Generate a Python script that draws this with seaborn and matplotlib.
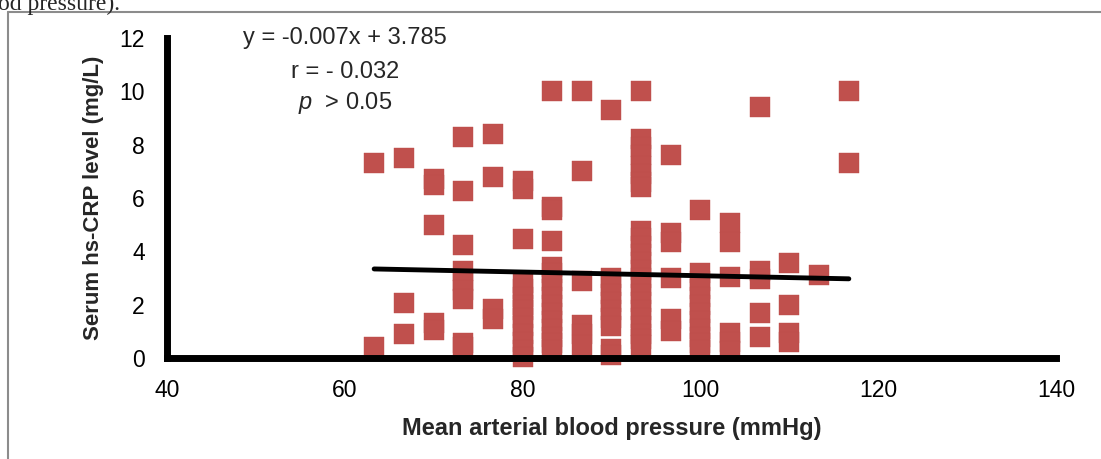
"""
Scatter of serum hs-CRP level against mean arterial blood pressure,
with the fitted linear trend line.
"""

import pandas as pd
import matplotlib.pyplot as plt
import seaborn as sns
from matplotlib.lines import Line2D

sns.set_theme(style='white')
plt.rcParams['font.family'] = ['Liberation Sans', 'DejaVu Sans']
plt.rcParams['mathtext.fontset'] = 'custom'
plt.rcParams['mathtext.it'] = 'Liberation Sans:italic'
plt.rcParams['mathtext.rm'] = 'Liberation Sans'

# MAP columns (mmHg) and the hs-CRP values stacked in each column (mg/L)
map_values = [63.3, 66.7, 70.0, 73.3, 76.7, 80.0, 83.3, 86.7, 90.0,
              93.3, 96.7, 100.0, 103.3, 106.7, 110.0, 113.3, 116.7]
crp_values = [
    [7.3, 0.4],
    [7.5, 2.05, 0.9],
    [6.7, 6.5, 5.0, 1.3, 1.05],
    [8.3, 6.25, 4.25, 3.25, 2.9, 2.55, 2.2, 0.55, 0.4],
    [8.4, 6.8, 1.85, 1.45],
    [6.65, 6.35, 4.45, 2.8, 2.6, 2.3, 2.0, 1.8, 1.5, 1.2, 0.9, 0.6, 0.3, 0.05],
    [10.0, 5.65, 5.55, 4.4, 3.4, 3.2, 2.9, 2.6, 2.3, 2.0, 1.7, 1.4, 1.1,
     0.8, 0.55, 0.3],
    [10.0, 7.0, 2.9, 1.25, 0.9, 0.5],
    [9.3, 3.0, 2.7, 2.4, 2.1, 1.8, 1.5, 1.2, 0.35, 0.1],
    [10.0, 8.2, 7.9, 7.6, 7.2, 6.9, 6.6, 6.4, 4.75, 4.5, 4.2, 3.9, 3.6,
     3.3, 3.0, 2.7, 2.4, 2.1, 1.8, 1.5, 1.2, 0.9, 0.7, 0.5],
    [7.6, 4.7, 4.35, 3.0, 1.45, 1.0],
    [5.55, 3.2, 2.9, 2.6, 2.3, 2.0, 1.7, 1.4, 1.1, 0.8, 0.55, 0.3],
    [5.05, 4.35, 3.05, 0.95, 0.6, 0.25],
    [9.4, 3.25, 2.95, 1.7, 0.8],
    [3.55, 2.0, 0.95, 0.6],
    [3.1],
    [10.0, 7.3],
]

# trend line end points (y = -0.007x + 3.785)
trend_x = [63.3, 116.7]
trend_y = [3.34, 2.97]

x_ticks = [40, 60, 80, 100, 120, 140]
y_ticks = [0, 2, 4, 6, 8, 10, 12]

rows = [(x, y) for x, ys in zip(map_values, crp_values) for y in ys]
df = pd.DataFrame(rows, columns=['map', 'crp'])

fig = plt.figure(figsize=(11.01, 4.59), dpi=100)
ax = fig.add_axes([0.1517, 0.2200, 0.8074, 0.6972])

sns.scatterplot(data=df, x='map', y='crp', marker='s', s=225,
                color='#C0504D', edgecolor='#BC4D4A', linewidth=0.3,
                clip_on=False, zorder=1, ax=ax)
sns.lineplot(x=trend_x, y=trend_y, color='black', linewidth=3.5,
             solid_capstyle='round', zorder=3, ax=ax)

ax.set_xlim(40, 140)
ax.set_ylim(0, 12)
ax.set_xticks(x_ticks)
ax.set_yticks(y_ticks)
ax.tick_params(axis='both', labelsize=16.5, colors='black', direction='out',
               length=6, width=5.5)
ax.tick_params(axis='x', pad=9)
ax.tick_params(axis='y', pad=10)

for side in ['top', 'right']:
    ax.spines[side].set_visible(False)
for side in ['left', 'bottom']:
    ax.spines[side].set_linewidth(5)
    ax.spines[side].set_color('black')
    ax.spines[side].set_zorder(2.5)

ax.set_xlabel('Mean arterial blood pressure (mmHg)', fontsize=17,
              fontweight='bold', labelpad=11)
ax.set_ylabel('Serum hs-CRP level (mg/L)', fontsize=16,
              fontweight='bold', labelpad=11)

ax.text(60.0, 12.0, 'y = -0.007x + 3.785', fontsize=17, ha='center', va='center')
ax.text(60.0, 10.73, 'r = - 0.032', fontsize=17, ha='center', va='center')
ax.text(60.0, 9.56, r'$\mathit{p}$  > 0.05', fontsize=17, ha='center', va='center')

# caption fragment cut off at the top of the picture and the frame
fig.text(-0.002, 0.9793, 'od pressure).', fontsize=17, family='Liberation Serif',
         ha='left', va='baseline')
fig.add_artist(Line2D([0.0073, 1.0], [0.974, 0.974], color='#8c8c8c', linewidth=1.5))
fig.add_artist(Line2D([0.0073, 0.0073], [0.0, 0.974], color='#8c8c8c', linewidth=1.5))

fig.savefig('out.png', dpi=100)
